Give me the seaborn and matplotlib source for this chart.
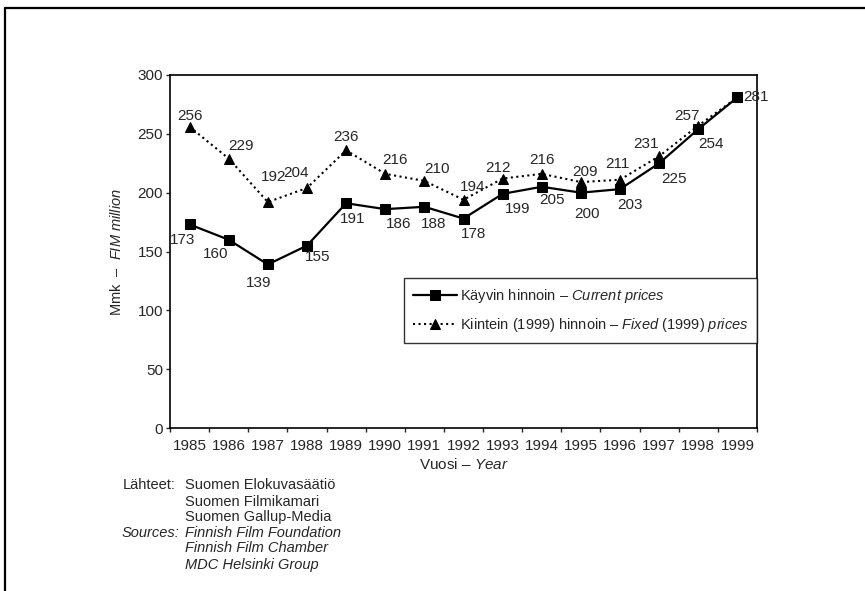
import matplotlib
matplotlib.use("Agg")
import matplotlib.pyplot as plt
import seaborn as sns
import numpy as np
from matplotlib.lines import Line2D
from matplotlib.ticker import FixedLocator

# ---- data ----
years = [1985, 1986, 1987, 1988, 1989, 1990, 1991, 1992, 1993, 1994, 1995, 1996, 1997, 1998, 1999]
current_prices = [173, 160, 139, 155, 191, 186, 188, 178, 199, 205, 200, 203, 225, 254, 281]
fixed_prices = [256, 229, 192, 204, 236, 216, 210, 194, 212, 216, 209, 211, 231, 257, 281]
y_ticks = [0, 50, 100, 150, 200, 250, 300]

# label offsets in pixels (layout only)
cur_off = [(-7, -16), (-13, -14), (-9, -19), (11, -11), (7, -16), (13, -15), (9, -17),
           (10, -15), (15, -15), (10, -13), (6, -21), (10, -16), (15, -16), (13, -15), (19, 0)]
fix_off = [(0, 11), (12, 13), (6, 25), (-11, 15), (0, 13), (10, 14), (13, 12),
           (9, 13), (-5, 11), (0, 14), (4, 10), (-3, 16), (-13, 12), (-11, 10), None]

sns.set_style("white")
FONT = ["Liberation Sans", "DejaVu Sans"]
plt.rcParams["font.family"] = FONT
plt.rcParams["mathtext.fontset"] = "custom"
plt.rcParams["mathtext.rm"] = "Liberation Sans"
plt.rcParams["mathtext.it"] = "Liberation Sans:italic"

fig = plt.figure(figsize=(8.65, 5.91), dpi=100)
W, H = 865, 591
L, R, T, B = 170, 757, 75, 428
ax = fig.add_axes([L / W, 1 - B / H, (R - L) / W, (B - T) / H])

sns.lineplot(x=years, y=current_prices, ax=ax, color="black", marker="s", markersize=7,
             linewidth=1.6, linestyle="-", markeredgecolor="black",
             label=r"Käyvin hinnoin – $\mathit{Current\ prices}$")
sns.lineplot(x=years, y=fixed_prices, ax=ax, color="black", marker="^", markersize=7,
             linewidth=1.5, linestyle=":", markeredgecolor="black",
             label=r"Kiintein (1999) hinnoin – $\mathit{Fixed\ (1999)\ prices}$")

ax.set_xlim(1984.5, 1999.5)
ax.set_ylim(0, 300)
ax.set_xticks(years)
ax.set_xticklabels([str(y) for y in years], fontsize=11)
ax.xaxis.set_minor_locator(FixedLocator(np.arange(1984.5, 2000, 1.0)))
ax.tick_params(axis="x", which="major", length=0, pad=8)
ax.tick_params(axis="x", which="minor", length=3, width=1, direction="out", bottom=True)
ax.set_yticks(y_ticks)
ax.set_yticklabels([str(v) for v in y_ticks], fontsize=11)
ax.tick_params(axis="y", length=3, width=1, direction="out", left=True, pad=2)

for s in ax.spines.values():
    s.set_visible(True)
    s.set_color("black")
    s.set_linewidth(1.2)

ax.set_xlabel(r"Vuosi – $\mathit{Year}$", fontsize=11, labelpad=3)
ax.set_ylabel(r"Mmk  –  $\mathit{FIM\ million}$", fontsize=10.5, labelpad=10)

for x, v, o in zip(years, current_prices, cur_off):
    ax.annotate(str(v), (x, v), xytext=o, textcoords="offset pixels",
                ha="center", va="center", fontsize=11)
for x, v, o in zip(years, fixed_prices, fix_off):
    if o is None:
        continue
    ax.annotate(str(v), (x, v), xytext=o, textcoords="offset pixels",
                ha="center", va="center", fontsize=11)

leg = ax.legend(loc="upper right", bbox_to_anchor=(1.0, 0.425), borderaxespad=0,
                frameon=True, fancybox=False, fontsize=10.5, handlelength=3.0,
                handletextpad=0.2, borderpad=0.6, labelspacing=0.8)
leg.get_frame().set_edgecolor("black")
leg.get_frame().set_linewidth(1.0)

# sources
src_rows = [(123, 485, "Lähteet:", "Suomen Elokuvasäätiö", "normal"),
            (185, 502, None, "Suomen Filmikamari", "normal"),
            (185, 517, None, "Suomen Gallup-Media", "normal"),
            (122, 533, "Sources:", "Finnish Film Foundation", "italic"),
            (185, 548, None, "Finnish Film Chamber", "italic"),
            (185, 565, None, "MDC Helsinki Group", "italic")]
for x, y, head, txt, st in src_rows:
    if head:
        fig.text(x / W, 1 - y / H, head, fontsize=10.5, style=st, va="center", ha="left")
        fig.text(185 / W, 1 - y / H, txt, fontsize=10.5, style=st, va="center", ha="left")
    else:
        fig.text(x / W, 1 - y / H, txt, fontsize=10.5, style=st, va="center", ha="left")

# outer border (left and top)
fig.add_artist(Line2D([5 / W, 5 / W], [0, 1 - 8 / H], color="black", linewidth=1.6,
                      transform=fig.transFigure))
fig.add_artist(Line2D([5 / W, 1], [1 - 8 / H, 1 - 8 / H], color="black", linewidth=1.6,
                      transform=fig.transFigure))

fig.savefig("out.png", dpi=100)
